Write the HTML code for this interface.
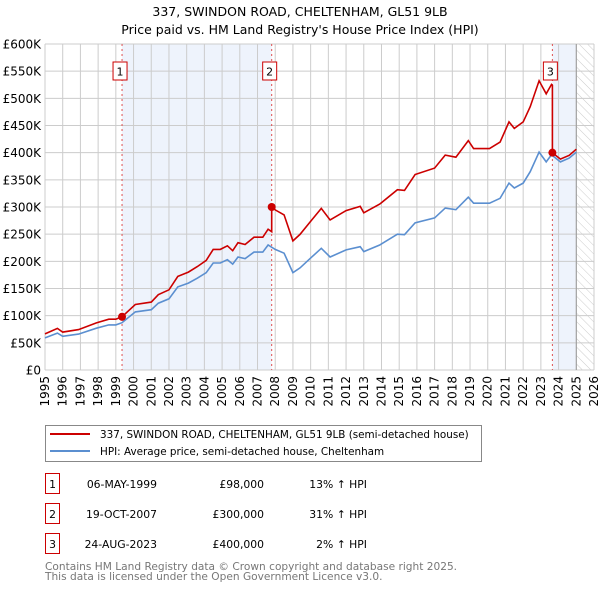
<!DOCTYPE html>
<html><head><meta charset="utf-8"><style>
body{margin:0;background:#fff;font-family:"Liberation Sans","DejaVu Sans",sans-serif;}
svg text{font-family:"DejaVu Sans","Liberation Sans",sans-serif;}
</style></head><body>
<svg id="chart" width="600" height="590" xmlns="http://www.w3.org/2000/svg">
<defs><pattern id="hatch" width="6" height="6" patternUnits="userSpaceOnUse" patternTransform="rotate(-45)"><line x1="0" y1="0" x2="0" y2="6" stroke="#ccc" stroke-width="1"/></pattern></defs>
<text x="300" y="16" font-size="12.5" text-anchor="middle">337, SWINDON ROAD, CHELTENHAM, GL51 9LB</text>
<text x="300" y="34" font-size="12.5" text-anchor="middle">Price paid vs. HM Land Registry's House Price Index (HPI)</text>
<g id="plot"></g>
<g>
<rect x="45.5" y="425.5" width="436" height="36" fill="#fff" stroke="#888"/>
<line x1="50" y1="434" x2="90" y2="434" stroke="#cc0000" stroke-width="2"/>
<text x="100" y="438" font-size="10.4">337, SWINDON ROAD, CHELTENHAM, GL51 9LB (semi-detached house)</text>
<line x1="50" y1="451" x2="90" y2="451" stroke="#5b8fd0" stroke-width="2"/>
<text x="100" y="455" font-size="10.4">HPI: Average price, semi-detached house, Cheltenham</text>
</g>
<g id="table"></g>
<text x="45" y="570" font-size="10.6" fill="#777">Contains HM Land Registry data © Crown copyright and database right 2025.</text>
<text x="45" y="580" font-size="10.6" fill="#777">This data is licensed under the Open Government Licence v3.0.</text>
</svg>
<script>
const hpiYears=[1995.0,1995.7,1996.0,1996.9,1997.9,1998.6,1999.0,1999.35,2000.1,2001.0,2001.4,2002.0,2002.5,2003.1,2003.6,2004.1,2004.5,2004.9,2005.3,2005.6,2005.9,2006.3,2006.8,2007.3,2007.6,2008.0,2008.5,2009.0,2009.4,2010.0,2010.6,2011.1,2012.0,2012.8,2013.0,2013.9,2014.9,2015.3,2015.9,2017.0,2017.6,2018.2,2018.9,2019.2,2020.1,2020.7,2021.2,2021.5,2022.0,2022.4,2022.9,2023.3,2023.6,2024.1,2024.6,2025.0];
const hpiValues=[59,68,62,66,77,83,83,87,107,111,123,131,153,160,169,179,197,197,203,195,208,205,217,217,230,222,215,179,188,206,224,208,221,227,218,230,250,249,271,280,298,295,318,307,307,316,344,335,344,365,401,383,396,383,390,401];
const saleYears=[1999.35,2007.8,2023.65];
const salePrices=[98000,300000,400000];
const saleLabels=["1","2","3"];
const saleDates=["06-MAY-1999","19-OCT-2007","24-AUG-2023"];
const salePriceText=["£98,000","£300,000","£400,000"];
const salePct=["13% ↑ HPI","31% ↑ HPI","2% ↑ HPI"];
const yTicks=[0,50,100,150,200,250,300,350,400,450,500,550,600];
const xTicks=[1995,1996,1997,1998,1999,2000,2001,2002,2003,2004,2005,2006,2007,2008,2009,2010,2011,2012,2013,2014,2015,2016,2017,2018,2019,2020,2021,2022,2023,2024,2025,2026];

const X0=45,X1=594,Y0=370,Y1=44,dataEnd=2025.0;
const sx=y=>X0+(y-1995)/(2026-1995)*(X1-X0);
const sy=v=>Y0-v/600*(Y0-Y1);
const NS="http://www.w3.org/2000/svg";
const plot=document.getElementById('plot');
function mk(tag,at,parent){const e=document.createElementNS(NS,tag);for(const k in at)e.setAttribute(k,at[k]);(parent||plot).appendChild(e);return e;}
function hpiAt(t){for(let i=0;i<hpiYears.length-1;i++){if(t<=hpiYears[i+1]){const f=(t-hpiYears[i])/(hpiYears[i+1]-hpiYears[i]);return hpiValues[i]+f*(hpiValues[i+1]-hpiValues[i]);}}return hpiValues[hpiValues.length-1];}

let s1=mk('rect',{x:sx(saleYears[0]),y:Y1,width:sx(saleYears[1])-sx(saleYears[0]),height:Y0-Y1,fill:'#eef3fc'});


let s2=mk('rect',{x:sx(saleYears[2]),y:Y1,width:sx(dataEnd)-sx(saleYears[2]),height:Y0-Y1,fill:'#eef3fc'});


let hz=mk('rect',{x:sx(dataEnd),y:Y1,width:X1-sx(dataEnd),height:Y0-Y1,fill:'url(#hatch)'});



xTicks.forEach(t=>{const l=mk('line',{x1:sx(t),x2:sx(t),y1:Y1,y2:Y0,stroke:'#ccc','stroke-width':1});


const tx=mk('text',{x:0,y:0,'font-size':12,'text-anchor':'end',transform:`translate(${sx(t)+4},${Y0+6}) rotate(-90)`});tx.textContent=t;

});
yTicks.forEach(v=>{const l=mk('line',{x1:X0,x2:X1,y1:sy(v),y2:sy(v),stroke:'#ccc','stroke-width':1});


const tx=mk('text',{x:X0-4,y:sy(v)+4.5,'font-size':12,'text-anchor':'end'});tx.textContent=v===0?'£0':'£'+v+'K';

});
mk('line',{x1:sx(dataEnd),x2:sx(dataEnd),y1:Y1,y2:Y0,stroke:'#999','stroke-width':1});

saleYears.forEach((t,i)=>{const l=mk('line',{x1:sx(t),x2:sx(t),y1:Y1,y2:Y0,stroke:'#e05050','stroke-width':1,'stroke-dasharray':'2,3'});


const g=mk('g',{});


const cx=sx(t)-2;mk('rect',{x:cx-7,y:62,width:14,height:18,fill:'#fff',stroke:'#cc0000'},g);
const tx=mk('text',{x:cx,y:75.5,'font-size':11,'text-anchor':'middle'},g);tx.textContent=saleLabels[i];});

let d=hpiYears.map((t,i)=>(i?'L':'M')+sx(t).toFixed(1)+','+sy(hpiValues[i]).toFixed(1)).join('');
const hl=mk('path',{d:d,fill:'none',stroke:'#5b8fd0','stroke-width':1.6});



const ratios=saleYears.map((t,i)=>salePrices[i]/1000/hpiAt(t));
function ratioAt(t){let r=ratios[0];saleYears.forEach((s,i)=>{if(t>=s)r=ratios[i];});return r;}
let pts=[];
hpiYears.forEach((t,i)=>pts.push([t,hpiValues[i]*ratioAt(t)]));
saleYears.forEach((t,i)=>{const prev=i?ratios[i-1]:ratios[0];pts.push([t-1e-6,hpiAt(t)*prev]);pts.push([t,salePrices[i]/1000]);});
pts.sort((a,b)=>a[0]-b[0]);
d=pts.map((p,i)=>(i?'L':'M')+sx(p[0]).toFixed(1)+','+sy(p[1]).toFixed(1)).join('');
const pl=mk('path',{d:d,fill:'none',stroke:'#cc0000','stroke-width':1.6});


saleYears.forEach((t,i)=>{const c=mk('circle',{cx:sx(t),cy:sy(salePrices[i]/1000),r:4,fill:'#cc0000'});

});

const tb=document.getElementById('table');
saleYears.forEach((t,i)=>{const y=473+i*30;
const g=mk('g',{},tb);


mk('rect',{x:45.5,y:y+0.5,width:14,height:20,fill:'#fff',stroke:'#cc0000'},g);
let a=mk('text',{x:52.5,y:y+15,'font-size':10.8,'text-anchor':'middle'},g);a.textContent=saleLabels[i];
a=mk('text',{x:157,y:y+15,'font-size':10.8,'text-anchor':'end'},g);a.textContent=saleDates[i];
a=mk('text',{x:264,y:y+15,'font-size':10.8,'text-anchor':'end'},g);a.textContent=salePriceText[i];
a=mk('text',{x:367,y:y+15,'font-size':10.8,'text-anchor':'end'},g);a.textContent=salePct[i];});
</script>
</body></html>
